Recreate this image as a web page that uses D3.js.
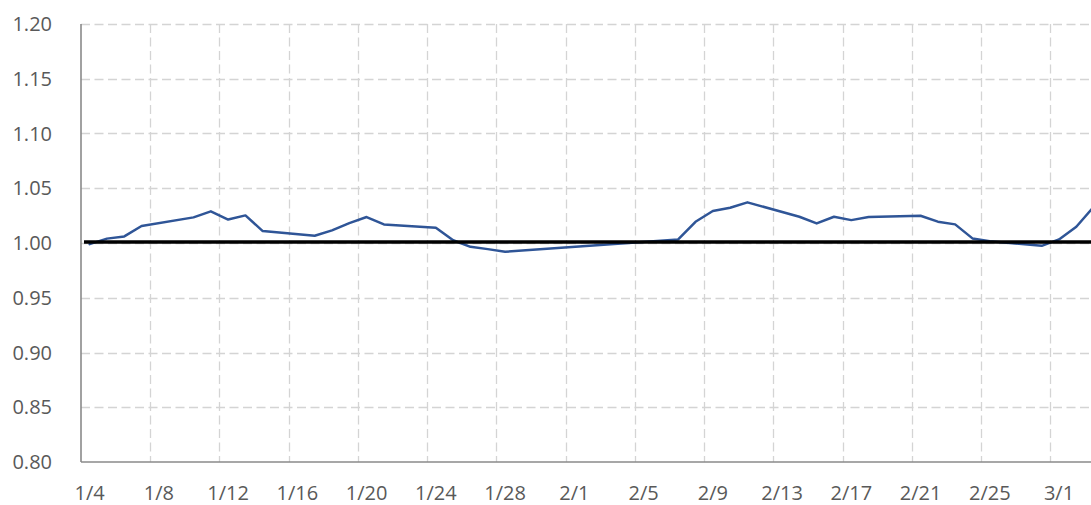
<!DOCTYPE html>
<html>
<head>
<meta charset="utf-8">
<script src="https://cdn.jsdelivr.net/npm/d3@7"></script>
<style>
  body { margin: 0; background: #fff; overflow: hidden; }
  svg { display: block; font-family: "Open Sans", sans-serif; }
</style>
</head>
<body>
<script>
// trading days (2022)
const dates = [
  "2022-01-04", "2022-01-05", "2022-01-06", "2022-01-07",
  "2022-01-10", "2022-01-11", "2022-01-12", "2022-01-13", "2022-01-14",
  "2022-01-17", "2022-01-18", "2022-01-19", "2022-01-20", "2022-01-21",
  "2022-01-24", "2022-01-25", "2022-01-26", "2022-01-27", "2022-01-28",
  "2022-02-07", "2022-02-08", "2022-02-09", "2022-02-10", "2022-02-11",
  "2022-02-14", "2022-02-15", "2022-02-16", "2022-02-17", "2022-02-18",
  "2022-02-21", "2022-02-22", "2022-02-23", "2022-02-24", "2022-02-25",
  "2022-02-28", "2022-03-01", "2022-03-02", "2022-03-03"
];
const values = [
  0.999, 1.004, 1.006, 1.0155,
  1.0234, 1.0289, 1.0214, 1.0252, 1.0109,
  1.0066, 1.0115, 1.0182, 1.0237, 1.017,
  1.014, 1.0025, 0.9965, 0.9944, 0.992,
  1.0033, 1.0194, 1.0292, 1.0322, 1.0371,
  1.024, 1.0179, 1.024, 1.0209, 1.0237,
  1.0249, 1.0195, 1.017, 1.0042, 1.0017,
  0.9974, 1.0033, 1.0148, 1.033
];
const refValue = 1.001;   // black reference line
const yTicks = [0.80, 0.85, 0.90, 0.95, 1.00, 1.05, 1.10, 1.15, 1.20];
const axisStart = "2022-01-04", axisEnd = "2022-03-05";  // date axis runs past the right edge
const labelEvery = 4;

// sizes
const W = 1091, H = 505;
const margin = { top: 24, left: 81, bottom: 43 };
const dayWidth = 17.31;

const parse = d3.timeParse("%Y-%m-%d");
const key = d3.timeFormat("%Y-%m-%d");
const fmt = d3.timeFormat("%-m/%-d");

const days = d3.timeDay.range(parse(axisStart), parse(axisEnd));

const x = d3.scaleBand()
  .domain(days.map(key))
  .range([margin.left, margin.left + days.length * dayWidth])
  .paddingInner(0).paddingOuter(0);

const y = d3.scaleLinear()
  .domain([0.80, 1.20])
  .range([H - margin.bottom, margin.top]);

const svg = d3.select("body").append("svg")
  .attr("width", W)
  .attr("height", H);

const xc = d => x(d) + x.bandwidth() / 2;

// horizontal grid (dashed)
svg.append("g")
  .selectAll("line")
  .data(yTicks.filter(t => t > 0.80))
  .enter()
  .append("line")
  .attr("x1", x.range()[0])
  .attr("x2", x.range()[1])
  .attr("y1", d => Math.round(y(d)) + 0.5)
  .attr("y2", d => Math.round(y(d)) + 0.5)
  .attr("stroke", "#d4d4d4")
  .attr("stroke-width", 1.3)
  .attr("stroke-dasharray", "9,4.5");

// vertical grid, every 4th day on the cell edge
const labelDays = days.filter((d, i) => i % labelEvery === 0);
svg.append("g")
  .selectAll("line")
  .data(labelDays.slice(1))
  .enter()
  .append("line")
  .attr("x1", d => Math.round(x(key(d))) + 0.5)
  .attr("x2", d => Math.round(x(key(d))) + 0.5)
  .attr("y1", y(1.20))
  .attr("y2", y(0.80))
  .attr("stroke", "#d4d4d4")
  .attr("stroke-width", 1.3)
  .attr("stroke-dasharray", "9,4.5");

// axis lines
svg.append("line")
  .attr("x1", x.range()[0]).attr("x2", x.range()[0])
  .attr("y1", y(1.20)).attr("y2", y(0.80))
  .attr("stroke", "#8a8a8a").attr("stroke-width", 1.6);
svg.append("line")
  .attr("x1", x.range()[0]).attr("x2", x.range()[1])
  .attr("y1", y(0.80)).attr("y2", y(0.80))
  .attr("stroke", "#8a8a8a").attr("stroke-width", 1.6);

// y labels
svg.append("g")
  .selectAll("text")
  .data(yTicks)
  .enter()
  .append("text")
  .text(d => d.toFixed(2))
  .attr("x", 52)
  .attr("y", d => y(d))
  .attr("dy", "0.36em")
  .attr("text-anchor", "end")
  .style("font-size", "20px")
  .style("fill", "#595959");

// x labels
svg.append("g")
  .selectAll("text")
  .data(labelDays)
  .enter()
  .append("text")
  .text(d => fmt(d))
  .attr("x", d => xc(key(d)))
  .attr("y", 500)
  .attr("text-anchor", "middle")
  .style("font-size", "20px")
  .style("fill", "#595959");

// series
const series = dates.map((d, i) => ({ date: d, value: values[i] }));
const line = d3.line()
  .x(d => xc(d.date))
  .y(d => y(d.value));

svg.append("path")
  .datum(series)
  .attr("d", line)
  .attr("fill", "none")
  .attr("stroke", "#2f5597")
  .attr("stroke-width", 2.5)
  .attr("stroke-linejoin", "round")
  .attr("stroke-linecap", "round");

// reference line at 1.00
svg.append("line")
  .attr("x1", x.range()[0] + 3)
  .attr("x2", x.range()[1])
  .attr("y1", y(refValue))
  .attr("y2", y(refValue))
  .attr("stroke", "#000")
  .attr("stroke-width", 3.5);
</script>
</body>
</html>
